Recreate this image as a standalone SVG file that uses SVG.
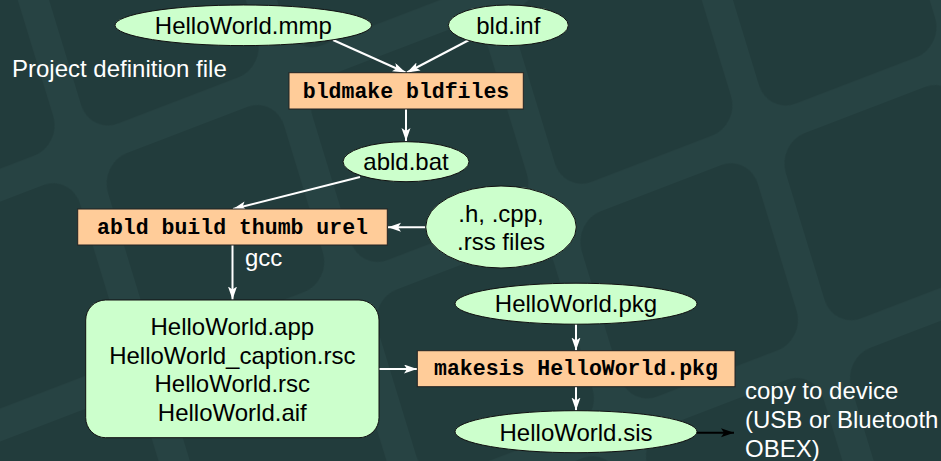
<svg xmlns="http://www.w3.org/2000/svg" width="941" height="461" viewBox="0 0 941 461">
  <defs>
    <style>
      .file { fill: #ccffcc; stroke: #111; stroke-width: 1; }
      .cmd { fill: #ffcc99; stroke: #222; stroke-width: 1; }
      .lbl { font-family: "Liberation Sans", Arial, sans-serif; font-size: 24px; fill: #000; text-anchor: middle; }
      .mono { font-family: "Liberation Mono", "Courier New", monospace; font-size: 21.5px; font-weight: bold; fill: #000; text-anchor: middle; }
      .note { font-family: "Liberation Sans", Arial, sans-serif; font-size: 24px; fill: #fff; }
      .edge { stroke: #fff; stroke-width: 2; fill: none; marker-end: url(#head); }
      .edge-dark { stroke: #000; stroke-width: 2; fill: none; marker-end: url(#headDark); }
    </style>
    <marker id="head" markerUnits="userSpaceOnUse" markerWidth="14" markerHeight="10" refX="13" refY="4.5" orient="auto">
      <path d="M0,0 L13,4.5 L0,9 L3,4.5 z" fill="#fff"/>
    </marker>
    <marker id="headDark" markerUnits="userSpaceOnUse" markerWidth="14" markerHeight="10" refX="13" refY="4.5" orient="auto">
      <path d="M0,0 L13,4.5 L0,9 L3,4.5 z" fill="#000"/>
    </marker>
    <!-- skewed tile grid of the slide backdrop -->
    <pattern id="tiles" patternUnits="userSpaceOnUse" x="0" y="0" width="220" height="220"
             patternTransform="matrix(0.9276 -0.3556 0.2981 0.976 99 163.7)">
      <rect x="0" y="0" width="190" height="190" rx="30" ry="30" fill="#223c3c"/>
    </pattern>
  </defs>

  <!-- backdrop -->
  <rect x="0" y="0" width="941" height="461" fill="#274343"/>
  <rect x="0" y="0" width="941" height="461" fill="url(#tiles)"/>

  <text class="note" x="12" y="77">Project definition file</text>

  <g id="connectors">
    <line class="edge" x1="333" y1="40" x2="405.5" y2="72.5"/>
    <line class="edge" x1="470" y1="39.5" x2="407" y2="72.5"/>
    <line class="edge" x1="406" y1="109" x2="406" y2="141"/>
    <line class="edge" x1="360" y1="177" x2="233" y2="209"/>
    <line class="edge" x1="425.5" y1="227.3" x2="388" y2="227.3"/>
    <line class="edge" x1="232.5" y1="245" x2="232.5" y2="299.5"/>
    <text class="note" x="245" y="266">gcc</text>
    <line class="edge" x1="379" y1="369" x2="417" y2="369"/>
    <line class="edge" x1="576" y1="324" x2="576" y2="350.5"/>
    <line class="edge" x1="576" y1="386.7" x2="576" y2="410.5"/>
    <line class="edge-dark" x1="697" y1="432.7" x2="734" y2="432.7"/>
  </g>

  <g id="mmp">
    <ellipse class="file" cx="243.3" cy="25.3" rx="128.3" ry="20.3"/>
    <text class="lbl" x="243.3" y="34">HelloWorld.mmp</text>
  </g>

  <g id="bldinf">
    <ellipse class="file" cx="508.3" cy="25.3" rx="60" ry="20.3"/>
    <text class="lbl" x="508.3" y="33.8">bld.inf</text>
  </g>

  <g id="bldmake">
    <rect class="cmd" x="289" y="72.7" width="234.3" height="36.3"/>
    <text class="mono" x="406" y="97.5">bldmake bldfiles</text>
  </g>

  <g id="abldbat">
    <ellipse class="file" cx="406" cy="161.7" rx="63" ry="20"/>
    <text class="lbl" x="406" y="170">abld.bat</text>
  </g>

  <g id="abldbuild">
    <rect class="cmd" x="77.7" y="209" width="309.6" height="36"/>
    <text class="mono" x="232.5" y="233.5">abld build thumb urel</text>
  </g>

  <g id="sources">
    <ellipse class="file" cx="501" cy="227" rx="75.3" ry="41"/>
    <text class="lbl" x="501" y="222">.h, .cpp,</text>
    <text class="lbl" x="501" y="250">.rss files</text>
  </g>

  <g id="outputs">
    <rect class="file" x="85.7" y="300" width="293.3" height="137.7" rx="20" ry="20"/>
    <text class="lbl" x="232.3" y="335">HelloWorld.app</text>
    <text class="lbl" x="232.3" y="363.5">HelloWorld_caption.rsc</text>
    <text class="lbl" x="232.3" y="392">HelloWorld.rsc</text>
    <text class="lbl" x="232.3" y="420.5">HelloWorld.aif</text>
  </g>

  <g id="pkg">
    <ellipse class="file" cx="576" cy="303.7" rx="121" ry="20.5"/>
    <text class="lbl" x="576" y="311.7">HelloWorld.pkg</text>
  </g>

  <g id="makesis">
    <rect class="cmd" x="417.3" y="350.7" width="317.7" height="36"/>
    <text class="mono" x="576" y="375">makesis HelloWorld.pkg</text>
  </g>

  <g id="sis">
    <ellipse class="file" cx="576" cy="431.7" rx="121" ry="21"/>
    <text class="lbl" x="576" y="440.5">HelloWorld.sis</text>
  </g>

  <g id="copynote">
    <text class="note" x="745" y="399.3">copy to device</text>
    <text class="note" x="745" y="428">(USB or Bluetooth</text>
    <text class="note" x="745" y="456.7">OBEX)</text>
  </g>
</svg>
